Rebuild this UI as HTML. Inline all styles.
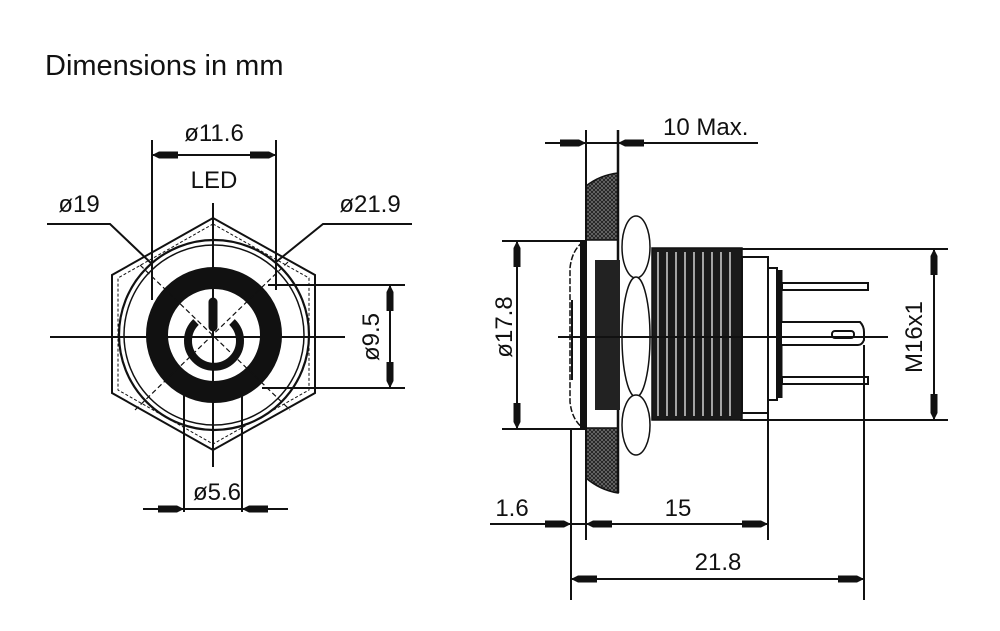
<!DOCTYPE html>
<html><head><meta charset="utf-8"><style>
html,body{margin:0;padding:0;background:#fff}
svg{display:block}
text{font-family:"Liberation Sans",Arial,sans-serif;fill:#111}
</style></head><body>
<svg width="1000" height="631" viewBox="0 0 1000 631" xmlns="http://www.w3.org/2000/svg">
<defs>
<polygon id="ar" points="0,0 -7,-3.5 -26,-3.5 -26,3.5 -7,3.5" fill="#111"/>
<pattern id="hatch" width="4" height="4" patternUnits="userSpaceOnUse">
<rect width="4" height="4" fill="#777"/>
<path d="M0,4 L4,0 M0,0 L4,4" stroke="#222" stroke-width="1"/>
</pattern>
</defs>
<rect width="1000" height="631" fill="#fff"/>
<text x="45" y="75" font-size="29">Dimensions in mm</text>

<!-- LEFT VIEW -->
<g stroke="#111" fill="none">
<polygon points="213,218 315,275 315,393 213,450 112,393 112,275" stroke-width="2"/>
<polygon points="213,224 309,278 309,390 213,444 118,390 118,278" stroke-width="1" stroke-dasharray="3,2"/>
<circle cx="214" cy="335" r="95" stroke-width="2.2"/>
<circle cx="214" cy="335" r="90" stroke-width="1.5"/>
<circle cx="214" cy="335" r="57" stroke-width="22"/>
<path d="M196,322 A26,26 0 1 0 232,322" stroke-width="8"/>
<line x1="213" y1="302" x2="213" y2="327" stroke-width="9" stroke-linecap="round"/>
<line x1="50" y1="337" x2="345" y2="337" stroke-width="2"/>
<line x1="213" y1="203" x2="213" y2="467" stroke-width="2"/>
<line x1="140" y1="265" x2="290" y2="410" stroke-width="1.2" stroke-dasharray="5,3"/>
<line x1="288" y1="262" x2="135" y2="410" stroke-width="1.2" stroke-dasharray="5,3"/>
<line x1="152" y1="140" x2="152" y2="300" stroke-width="2"/>
<line x1="276" y1="140" x2="276" y2="290" stroke-width="2"/>
<line x1="152" y1="155" x2="276" y2="155" stroke-width="2"/>
<polyline points="47,224 110,224 152,264" stroke-width="2"/>
<polyline points="412,224 323,224 276,262" stroke-width="2"/>
<line x1="268" y1="285" x2="405" y2="285" stroke-width="2"/>
<line x1="262" y1="388" x2="405" y2="388" stroke-width="2"/>
<line x1="390" y1="285" x2="390" y2="388" stroke-width="2"/>
<line x1="184" y1="390" x2="184" y2="512" stroke-width="2"/>
<line x1="242" y1="390" x2="242" y2="512" stroke-width="2"/>
<line x1="143" y1="509" x2="288" y2="509" stroke-width="2"/>
</g>
<use href="#ar" transform="translate(152,155) rotate(180)"/>
<use href="#ar" transform="translate(276,155)"/>
<use href="#ar" transform="translate(390,285) rotate(-90)"/>
<use href="#ar" transform="translate(390,388) rotate(90)"/>
<use href="#ar" transform="translate(184,509)"/>
<use href="#ar" transform="translate(242,509) rotate(180)"/>
<text x="214" y="141" font-size="24" text-anchor="middle">ø11.6</text>
<text x="214" y="188" font-size="24" text-anchor="middle">LED</text>
<text x="79" y="212" font-size="24" text-anchor="middle">ø19</text>
<text x="370" y="212" font-size="24" text-anchor="middle">ø21.9</text>
<text transform="translate(379,337) rotate(-90)" font-size="24" text-anchor="middle">ø9.5</text>
<text x="217" y="500" font-size="24" text-anchor="middle">ø5.6</text>

<!-- RIGHT VIEW -->
<g stroke="#111">
<path d="M586,186 Q600,175 618,173 L618,240 L586,240 Z" fill="url(#hatch)" stroke-width="1.5"/>
<path d="M586,428 L618,428 L618,493 Q600,490 586,478 Z" fill="url(#hatch)" stroke-width="1.5"/>
<line x1="586" y1="130" x2="586" y2="540" stroke-width="2" fill="none"/>
<line x1="618" y1="130" x2="618" y2="493" stroke-width="2.5" fill="none"/>
<rect x="580" y="241" width="6" height="188" fill="#111" stroke="none"/>
<path d="M583,242 Q572,250 570,268 L570,402 Q572,420 583,428" fill="none" stroke-width="1.5" stroke-dasharray="6,2"/>
<line x1="572" y1="300" x2="572" y2="380" stroke-width="2"/>
<rect x="595" y="260" width="25" height="150" fill="#222" stroke="none"/>
<ellipse cx="636" cy="247" rx="14" ry="31" fill="#fff" stroke-width="1.5"/>
<ellipse cx="636" cy="337" rx="14" ry="60" fill="#fff" stroke-width="1.5"/>
<ellipse cx="636" cy="425" rx="14" ry="30" fill="#fff" stroke-width="1.5"/>
<rect x="652" y="248" width="90" height="172" fill="#1a1a1a" stroke-width="1.5"/>
<g stroke="#fff" stroke-width="1.2">
<line x1="658" y1="252" x2="658" y2="416"/><line x1="667" y1="252" x2="667" y2="416"/>
<line x1="676" y1="252" x2="676" y2="416"/><line x1="685" y1="252" x2="685" y2="416"/>
<line x1="694" y1="252" x2="694" y2="416"/><line x1="703" y1="252" x2="703" y2="416"/>
<line x1="712" y1="252" x2="712" y2="416"/><line x1="721" y1="252" x2="721" y2="416"/>
<line x1="730" y1="252" x2="730" y2="416"/>
</g>
<rect x="742" y="257" width="26" height="156" fill="#fff" stroke-width="2"/>
<rect x="768" y="268" width="9" height="132" fill="#fff" stroke-width="2"/>
<line x1="780" y1="270" x2="780" y2="398" stroke-width="5"/>
<rect x="782" y="283" width="86" height="7" fill="#fff" stroke-width="2"/>
<rect x="782" y="377" width="86" height="7" fill="#fff" stroke-width="2"/>
<path d="M782,322 L860,322 Q864,326 864,332 L864,340 Q862,345 858,345 L782,345" fill="#fff" stroke-width="2"/>
<rect x="832" y="331" width="22" height="7" rx="3" fill="#fff" stroke-width="2"/>
<line x1="558" y1="337" x2="888" y2="337" stroke-width="2"/>
</g>
<g stroke="#111" stroke-width="2" fill="none">
<line x1="545" y1="143" x2="758" y2="143"/>
<line x1="502" y1="241" x2="585" y2="241"/>
<line x1="502" y1="429" x2="585" y2="429"/>
<line x1="517" y1="241" x2="517" y2="429"/>
<line x1="740" y1="249" x2="948" y2="249"/>
<line x1="740" y1="420" x2="948" y2="420"/>
<line x1="934" y1="249" x2="934" y2="420"/>
<line x1="571" y1="429" x2="571" y2="600"/>
<line x1="768" y1="413" x2="768" y2="540"/>
<line x1="864" y1="345" x2="864" y2="600"/>
<line x1="490" y1="524" x2="768" y2="524"/>
<line x1="571" y1="579" x2="864" y2="579"/>
</g>
<use href="#ar" transform="translate(586,143)"/>
<use href="#ar" transform="translate(618,143) rotate(180)"/>
<use href="#ar" transform="translate(517,241) rotate(-90)"/>
<use href="#ar" transform="translate(517,429) rotate(90)"/>
<use href="#ar" transform="translate(934,249) rotate(-90)"/>
<use href="#ar" transform="translate(934,420) rotate(90)"/>
<use href="#ar" transform="translate(571,524)"/>
<use href="#ar" transform="translate(586,524) rotate(180)"/>
<use href="#ar" transform="translate(768,524)"/>
<use href="#ar" transform="translate(571,579) rotate(180)"/>
<use href="#ar" transform="translate(864,579)"/>
<text x="663" y="135" font-size="24">10 Max.</text>
<text transform="translate(512,327) rotate(-90)" font-size="24" text-anchor="middle">ø17.8</text>
<text transform="translate(922,337) rotate(-90)" font-size="24" text-anchor="middle">M16x1</text>
<text x="512" y="516" font-size="24" text-anchor="middle">1.6</text>
<text x="678" y="516" font-size="24" text-anchor="middle">15</text>
<text x="718" y="570" font-size="24" text-anchor="middle">21.8</text>
</svg>
</body></html>
